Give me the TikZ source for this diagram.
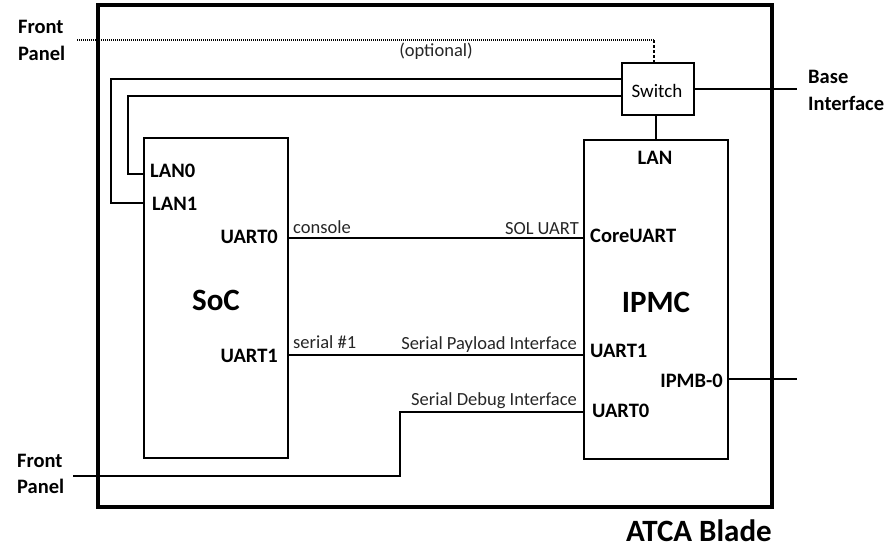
\documentclass[tikz,border=0pt]{standalone}
\usepackage{fontspec}
\setmainfont{Carlito}
\begin{document}
\begin{tikzpicture}[x=1pt,y=-1pt,
  box/.style={draw,line width=2pt,inner sep=0pt},
  wire/.style={line width=1.4pt},
  port/.style={font=\bfseries\fontsize{20.5}{24}\selectfont,inner sep=0pt},
  sig/.style={font=\fontsize{18.5}{22}\selectfont,inner sep=0pt,text=black!85},
  big/.style={font=\bfseries\fontsize{31}{36}\selectfont,inner sep=0pt}]
\useasboundingbox (0,0) rectangle (892,546);
% outer blade
\node[draw,line width=3.3pt,inner sep=0pt,minimum width=674pt,minimum height=502pt] (blade) at (435,256) {};
\node[big,anchor=base east] (atca) at (772,541) {ATCA Blade};
% boxes
\node[box,minimum width=144pt,minimum height=320pt] (soc) at (216,298) {};
\node[box,minimum width=144pt,minimum height=319pt] (ipmc) at (656,299.5) {};
\node[box,minimum width=72pt,minimum height=52pt] (sw) at (658,89) {};
\node[font=\fontsize{19}{22}\selectfont,inner sep=0pt,anchor=base] (swl) at (657,97) {Switch};
% big labels
\node[big,anchor=base] (socl) at (216,310) {SoC};
\node[big,anchor=base] (ipmcl) at (656,312) {IPMC};
% SoC ports
\node[port,anchor=base west] (lan0) at (150,177) {LAN0};
\node[port,anchor=base west] (lan1) at (152,210) {LAN1};
\node[port,anchor=base east] (su0) at (278,243) {UART0};
\node[port,anchor=base east] (su1) at (278,362) {UART1};
% IPMC ports
\node[port,anchor=base] (ilan) at (655,164) {LAN};
\node[port,anchor=base west] (core) at (590,242) {CoreUART};
\node[port,anchor=base west] (iu1) at (590,357) {UART1};
\node[port,anchor=base east] (ipmb) at (723,387) {IPMB-0};
\node[port,anchor=base west] (iu0) at (592,417) {UART0};
% external labels
\node[port,anchor=base west] (fp1a) at (18,34) {Front};
\node[port,anchor=base west] (fp1b) at (18,60) {Panel};
\node[port,anchor=base west] (fp2a) at (17,467) {Front};
\node[port,anchor=base west] (fp2b) at (17,493) {Panel};
\node[port,anchor=base west] (base1) at (808,83) {Base};
\node[port,anchor=base west] (base2) at (808,110) {Interface};
% signal labels
\node[sig,anchor=base] (opt) at (436,56) {(optional)};
\node[sig,anchor=base west] (cons) at (293,233) {console};
\node[sig,anchor=base east] (sol) at (579,234) {SOL UART};
\node[sig,anchor=base west] (ser1) at (293,348) {serial \#1};
\node[sig,anchor=base east] (spi) at (577,349) {Serial Payload Interface};
\node[sig,anchor=base east] (sdi) at (577,405) {Serial Debug Interface};
% free ends
\coordinate (fpTop) at (77,40);
\coordinate (fpBot) at (73,476);
\coordinate (baseEnd) at (797,89);
\coordinate (ipmbEnd) at (797,379);
% wires
\draw[line width=1.2pt,dash pattern=on 1pt off 1pt] (fpTop) -- (654,40);
\draw[line width=1.4pt,dash pattern=on 3pt off 2pt] (654,40) -- (sw.north -| 654,0);
\draw[wire] (sw.west |- 0,79) -| (111,203) -- (soc.west |- 0,203);
\draw[wire] (sw.west |- 0,96) -| (128,174) -- (soc.west |- 0,174);
\draw[wire] (sw.east) -- (baseEnd);
\draw[wire] (sw.south -| 656,0) -- (ipmc.north -| 656,0);
\draw[wire] (soc.east |- 0,238) -- (ipmc.west |- 0,238);
\draw[wire] (soc.east |- 0,355) -- (ipmc.west |- 0,355);
\draw[wire] (fpBot) -| (400,412) -- (ipmc.west |- 0,412);
\draw[line width=1.1pt] (ipmc.east |- 0,379) -- (ipmbEnd);
\end{tikzpicture}
\end{document}
